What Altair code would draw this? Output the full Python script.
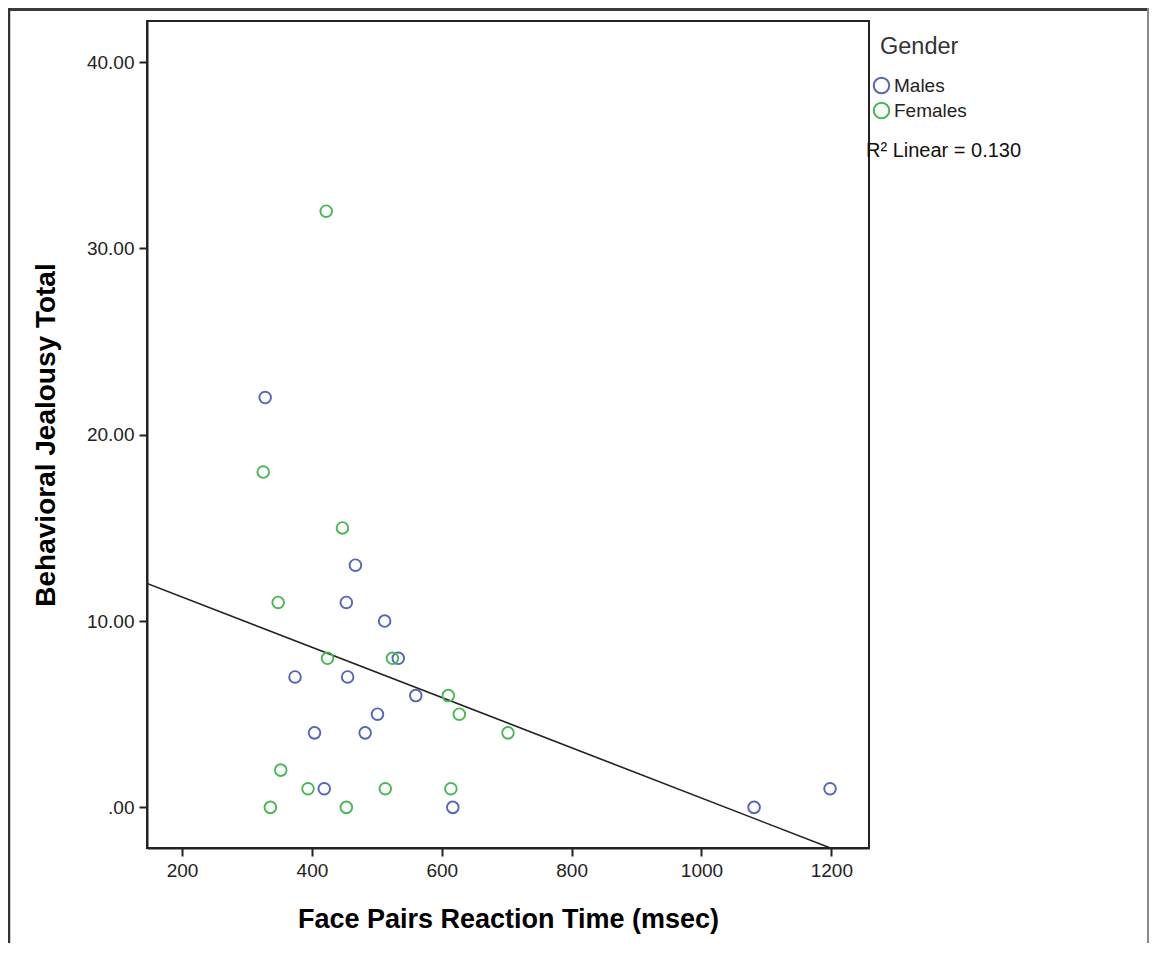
import altair as alt
import pandas as pd

# ---- data ----
male_rt = [328, 467, 453, 512, 533, 374, 455, 560, 501, 404, 482, 419, 617, 1081, 1198]
male_bj = [22, 13, 11, 10, 8, 7, 7, 6, 5, 4, 4, 1, 0, 0, 1]
female_rt = [422, 325, 447, 348, 424, 524, 610, 627, 702, 352, 394, 513, 614, 336, 453]
female_bj = [32, 18, 15, 11, 8, 8, 6, 5, 4, 2, 1, 1, 1, 0, 0]
genders = ["Males", "Females"]
gender_colors = ["#5565ba", "#48b952"]
x_ticks = [200, 400, 600, 800, 1000, 1200]
y_ticks = [0, 10, 20, 30, 40]
x_domain = [146, 1258]
y_domain = [-2.18, 42.21]
x_title = "Face Pairs Reaction Time (msec)"
y_title = "Behavioral Jealousy Total"
legend_title = ["Gender"]
r2_label = ["R\u00b2 Linear = 0.130"]

df = pd.DataFrame({
    "rt": male_rt + female_rt,
    "bj": male_bj + female_bj,
    "Gender": ["Males"] * len(male_rt) + ["Females"] * len(female_rt),
})

W, H = 722, 827
FONT = "Liberation Sans"

x_enc = alt.X("rt:Q", scale=alt.Scale(domain=x_domain, nice=False, zero=False),
              axis=alt.Axis(values=x_ticks, title=x_title, labelFontSize=19, format="d",
                            titleFontSize=27, titleFontWeight="bold",
                            titleX=W / 2, titleY=71, titleBaseline="middle",
                            labelPadding=5))
y_enc = alt.Y("bj:Q", scale=alt.Scale(domain=y_domain, nice=False, zero=False),
              axis=alt.Axis(values=y_ticks, title=y_title, labelFontSize=19,
                            labelExpr="datum.value == 0 ? '.00' : format(datum.value, '.2f')",
                            titleFontSize=28, titleFontWeight="bold",
                            titleX=-101, titleY=H / 2, titleAngle=-90,
                            titleBaseline="middle", titleAlign="center",
                            labelPadding=5))

base = alt.Chart(df)

points = base.mark_point(filled=False, shape="circle", size=135, strokeWidth=1.9, opacity=1).encode(
    x=x_enc,
    y=y_enc,
    color=alt.Color("Gender:N", scale=alt.Scale(domain=genders, range=gender_colors),
                    legend=alt.Legend(title=None, orient="none", legendX=725, legendY=55,
                                      labelFontSize=19, symbolSize=240,
                                      symbolStrokeWidth=2, rowPadding=0,
                                      padding=0, labelOffset=3, labelColor="#222")),
)

reg = base.transform_regression("rt", "bj", extent=x_domain).mark_line(
    color="#222", strokeWidth=1.6, clip=True
).encode(x="rt:Q", y="bj:Q")

gender_txt = alt.Chart(pd.DataFrame({"t": legend_title})).mark_text(
    align="left", baseline="middle", fontSize=23.5, font=FONT, color="#333"
).encode(text="t:N", x=alt.value(733), y=alt.value(26))

r2_txt = alt.Chart(pd.DataFrame({"t": r2_label})).mark_text(
    align="left", baseline="middle", fontSize=20, font=FONT, color="#111"
).encode(text="t:N", x=alt.value(719), y=alt.value(130))

frame_df = pd.DataFrame({"k": [0]})
frame_top = alt.Chart(frame_df).mark_rule(color="#3a3a3a", strokeWidth=3).encode(
    x=alt.value(-139), x2=alt.value(1002), y=alt.value(-11.5))
frame_left = alt.Chart(frame_df).mark_rule(color="#333", strokeWidth=2.5).encode(
    x=alt.value(-138), y=alt.value(-13), y2=alt.value(960))
frame_right = alt.Chart(frame_df).mark_rule(color="#888", strokeWidth=2).encode(
    x=alt.value(1001), y=alt.value(-13), y2=alt.value(960))

chart = alt.layer(frame_top, frame_left, frame_right, reg, points, gender_txt, r2_txt).properties(
    width=W, height=H,
    autosize=alt.AutoSizeParams(type="none"),
    padding={"left": 139, "top": 13, "right": 280, "bottom": 95},
    background="white",
).configure(font=FONT).configure_view(
    stroke="#222", strokeWidth=2
).configure_axis(
    grid=False, domainColor="#222", domainWidth=2, tickColor="#222", tickWidth=2,
    tickSize=8, labelColor="#222", titleColor="#000", labelFont=FONT, titleFont=FONT
).configure_legend(labelFont=FONT)

chart.save("out.html", embed_options={"renderer": "svg", "actions": False})
